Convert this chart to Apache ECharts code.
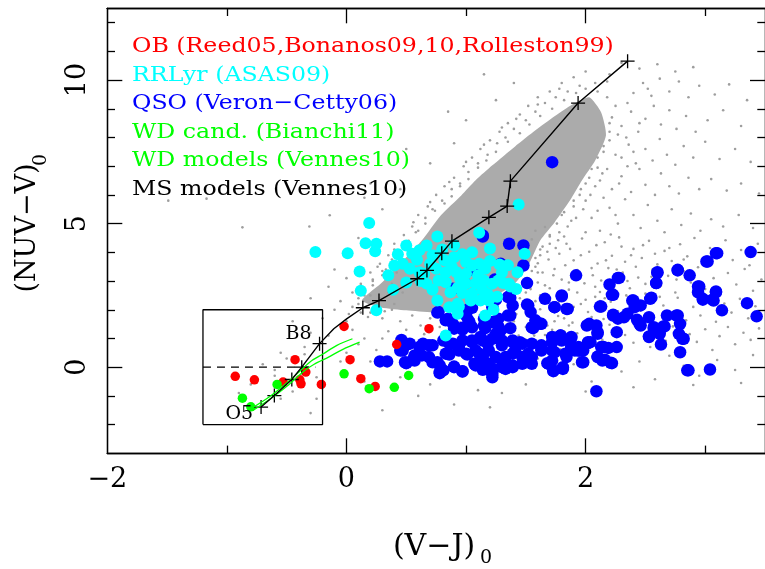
<!DOCTYPE html>
<html>
<head>
<meta charset="utf-8">
<script src="https://cdn.jsdelivr.net/npm/echarts@6/dist/echarts.min.js"></script>
<style>
  html, body { margin: 0; padding: 0; background: #fff; }
  #chart { width: 765px; height: 569px; }
</style>
</head>
<body>
<div id="chart"></div>
<script>
// ---- data (V-J)_0 , (NUV-V)_0 ----
// dense part of the field-star cloud, outline only
const fieldCore = [
  [0.13, 2.32], [0.29, 2.92], [0.46, 3.65], [0.63, 4.41], [0.79, 5.29], [0.96, 5.98],
  [1.08, 6.51], [1.22, 7.03], [1.41, 7.69], [1.58, 8.25], [1.74, 8.74], [1.89, 9.15],
  [2.03, 9.40], [2.13, 8.87], [2.17, 8.07], [2.08, 7.20], [1.97, 6.51], [1.87, 5.81],
  [1.74, 5.04], [1.62, 4.41], [1.52, 3.54], [1.41, 2.92], [1.25, 2.50], [1.00, 2.15],
  [0.75, 1.91], [0.50, 1.98], [0.29, 2.08]
]

// scattered field stars around the core
const fieldStars = [
  // lower right
  [1.55,4.45],[1.62,4.1],[1.7,4.55],[1.78,3.95],[1.84,4.3],[1.9,3.72],[1.97,4.48],[2.03,4.02],[2.1,3.61],[2.16,4.35],
  [2.22,3.88],[2.28,4.52],[2.33,3.67],[2.4,4.12],[2.47,3.8],[2.53,4.4],[2.6,3.58],[2.66,4.05],[2.72,3.7],[2.79,4.28],
  [2.85,3.86],[2.91,4.5],[2.98,3.62],[3.04,4.15],[3.1,3.91],[3.17,4.42],[3.23,3.73],[3.3,4.08],[3.37,3.55],[3.44,4.3],
  [1.6,3.3],[1.66,2.85],[1.74,3.42],[1.8,3.05],[1.86,2.7],[1.93,3.38],[1.99,2.92],[2.06,3.2],[2.12,2.62],[2.19,3.45],
  [2.25,2.98],[2.31,3.3],[2.37,2.75],[2.44,3.12],[2.5,2.56],[2.56,3.4],[2.63,2.84],[2.69,3.18],[2.75,2.6],[2.82,3.35],
  [2.88,2.95],[2.94,3.48],[3.0,2.72],[3.07,3.1],[3.13,2.58],[3.19,3.28],[3.26,2.88],[3.33,3.42],[3.4,2.66],[3.47,3.05],
  [1.45,2.4],[1.52,1.85],[1.58,2.3],[1.64,1.62],[1.7,2.05],[1.77,1.78],[1.83,2.38],[1.89,1.55],[1.96,2.2],[2.02,1.92],
  [2.08,2.45],[2.15,1.68],[2.21,2.28],[2.27,1.95],[2.34,2.5],[2.4,1.6],[2.46,1.98],[2.52,2.32],[2.59,1.52],[2.65,2.15],
  [2.71,1.88],[2.77,2.42],[2.84,1.63],[2.9,2.1],[2.96,1.8],[3.03,2.45],[3.09,1.58],[3.16,2.22],[3.22,1.9],[3.29,2.38],
  [3.36,1.7],[3.42,2.12],
  [1.5,1.4],[1.57,1.1],[1.64,0.9],[1.72,1.3],[1.79,0.62],[1.86,1.45],[1.93,1.18],[2.0,0.75],[2.07,1.35],[2.14,0.95],
  [2.2,1.48],[2.27,0.58],[2.33,1.12],[2.4,0.85],[2.47,1.38],[2.54,0.7],[2.6,1.22],[2.67,0.92],[2.73,1.42],[2.8,0.65],
  [2.87,1.15],[2.93,0.88],[3.0,1.32],[3.06,0.6],[3.12,1.08],[3.19,1.4],[3.25,0.8],[3.32,1.2],[3.38,0.95],[3.45,1.35],
  [1.6,0.3],[1.75,-0.3],[1.9,0.1],[2.05,-0.5],[2.18,0.35],[2.3,-0.15],[2.45,0.2],[2.58,-0.42],[2.7,0.4],[2.82,0.05],
  [2.95,-0.3],[3.1,0.25],[3.25,-0.1],[3.4,0.42],[2.0,-0.85],[2.4,-0.7],[2.9,-0.62],[3.3,-0.55],[1.5,-0.6],[1.3,-0.9],
  // denser strip just right of the core
  [1.58,4.75],[1.66,4.88],[1.6,3.62],[1.68,4.02],[1.73,3.2],[1.77,4.42],[1.83,3.55],[1.87,4.12],[1.92,3.1],[1.96,3.9],
  [2.0,4.7],[2.05,3.45],[2.09,4.25],[2.13,3.02],[2.17,3.72],[2.21,4.62],[2.26,3.4],[2.3,4.2],[2.35,3.0],[2.38,3.9],
  [1.54,2.72],[1.62,2.5],[1.7,2.75],[1.78,2.3],[1.86,2.95],[1.93,2.6],[2.0,2.35],[2.08,2.8],[2.16,2.4],[2.24,2.7],
  [1.48,2.1],[1.55,1.6],[1.62,2.02],[1.68,1.45],[1.75,1.95],[1.82,1.7],[1.9,2.1],[1.97,1.42],[2.05,1.75],[2.12,2.3],
  [1.44,1.1],[1.5,0.95],[1.58,1.25],[1.66,1.12],[1.74,1.6],[1.82,1.25],[1.3,1.62],[1.42,1.85],[1.36,2.05],[1.26,2.12],
  [2.42,3.5],[2.48,4.25],[2.55,3.15],[2.58,3.95],[2.64,3.3],[2.7,4.15],[2.76,3.05],[2.82,3.75],[2.5,2.9],[2.62,2.45],
  // upper right
  [2.05,5.2],[2.12,4.75],[2.2,5.55],[2.27,5.0],[2.33,5.85],[2.4,5.3],[2.46,4.85],[2.52,5.65],[2.6,5.1],[2.66,4.7],
  [2.72,5.5],[2.8,4.95],[2.88,5.35],[2.96,4.75],[3.05,5.15],[3.15,4.9],[3.28,5.3],[3.4,4.85],
  [2.22,6.2],[2.3,6.65],[2.38,6.1],[2.45,6.9],[2.5,6.35],[2.58,6.0],[2.63,6.75],[2.7,6.3],[2.78,6.05],[2.86,6.6],
  [2.95,6.2],[3.05,6.55],[3.18,6.15],[3.3,6.4],[3.45,6.05],
  [2.3,7.3],[2.36,7.75],[2.42,7.1],[2.5,7.6],[2.56,7.2],[2.62,7.95],[2.68,7.4],[2.75,7.05],[2.82,7.7],[2.9,7.3],
  [3.0,7.85],[3.12,7.25],[3.25,7.6],[3.38,7.15],
  [2.3,8.4],[2.38,8.9],[2.44,8.2],[2.5,8.65],[2.57,9.1],[2.63,8.45],[2.7,8.95],[2.76,8.3],[2.84,8.75],[2.92,8.2],
  [3.02,8.6],[3.15,8.95],[3.3,8.4],
  [2.4,9.55],[2.48,9.9],[2.55,9.45],[2.62,10.05],[2.7,9.6],[2.78,9.95],[2.86,9.4],[2.95,9.8],[3.08,9.5],[3.2,9.85],
  [3.35,9.3],[2.45,10.4],[2.6,10.55],[2.75,10.3],[2.9,10.45],[2.2,10.2],[2.3,10.6],
  [2.25,5.3],[2.15,5.9],[2.28,6.4],[2.35,7.0],[2.4,7.5],[2.34,8.0],[2.45,8.5],[2.35,9.2],[2.52,9.7],[2.1,5.45],
  // halo, upper-left edge of the core
  [0.05,2.6],[0.12,2.9],[0.2,3.3],[0.28,3.6],[0.35,3.9],[0.4,4.3],[0.48,4.6],[0.55,4.9],[0.6,5.3],[0.68,5.6],
  [0.75,6.0],[0.82,6.3],[0.9,6.6],[0.98,7.0],[1.05,7.3],[1.12,7.6],[1.2,7.9],[1.28,8.2],[1.35,8.5],[1.45,8.8],
  [1.52,9.1],[1.6,9.4],[1.7,9.6],[1.8,9.9],[1.9,10.1],[2.0,10.3],
  [0.15,2.5],[0.22,3.0],[0.33,3.4],[0.42,3.9],[0.5,4.2],[0.58,4.7],[0.66,5.0],[0.72,5.5],[0.8,5.8],[0.88,6.2],
  [0.95,6.4],[1.02,6.8],[1.1,7.1],[1.18,7.4],[1.26,7.8],[1.33,8.0],[1.4,8.3],[1.5,8.6],[1.58,8.9],[1.66,9.2],
  [1.75,9.4],[1.85,9.6],[1.95,9.8],
  [0.22,3.05],[0.3,3.35],[0.38,3.75],[0.45,4.05],[0.52,4.4],[0.6,4.75],[0.66,5.2],[0.74,5.45],[0.82,5.7],[0.88,5.95],
  [0.95,6.3],[1.02,6.55],[1.1,6.95],[1.17,7.2],[1.25,7.5],[1.35,7.85],[1.45,8.15],[1.53,8.45],[1.62,8.75],[1.72,9.0],
  [1.82,9.3],[1.92,9.55],[2.0,9.7],[2.08,9.9],[0.26,3.5],[0.4,4.1],[0.56,5.05],[0.7,5.75],[0.86,6.45],[1.0,7.15],
  [1.15,7.75],[1.3,8.35],[1.42,8.65],[1.6,9.15],[1.78,9.7],
  [0.3,5.5],[0.1,4.5],[0.45,6.2],[0.7,7.1],[0.9,7.8],[1.0,8.6],[1.25,9.3],[1.4,9.9],[-0.1,3.4],[0.5,7.6],
  [0.2,6.4],[0.15,5.9],[0.85,8.9],[1.15,10.2],
  [-1.49,5.8],[-1.17,5.87],[-0.87,4.87],[-0.31,4.9],[-0.14,5.29],
  // halo, right edge of the core
  [1.8,5.3],[1.85,4.9],[1.9,5.6],[1.95,6.0],[2.0,6.4],[2.05,6.9],[2.1,7.3],[2.15,7.7],[2.2,8.2],[2.22,8.7],
  [2.25,9.1],[2.18,9.4],[1.78,4.7],[1.7,4.3],[1.62,3.9],[1.58,3.5],[1.52,3.0],[1.45,2.65],[1.35,2.45],[1.92,5.2],
  [2.0,5.8],[2.08,6.3],[2.14,6.75],
  [2.2,8.5],[2.2,7.9],[2.15,7.5],[2.1,6.95],[2.03,6.6],[1.96,6.2],[1.9,5.8],[1.82,5.4],[1.76,5.0],[1.7,4.6],
  [1.64,4.2],[1.58,3.8],[1.55,3.35],[1.48,2.95],[1.38,2.6],[1.28,2.3],[2.27,8.1],[2.25,7.4],[2.18,6.9],[2.12,6.5],
  [2.04,6.0],[1.98,5.5],[1.88,5.1],[1.82,4.55],[1.75,4.15],[1.69,3.75],[1.64,3.3],[1.6,2.95],[1.5,2.6],[2.1,9.6],
  [2.18,9.95],
  // below the core and towards the box
  [0.2,1.9],[0.3,1.7],[0.38,2.0],[0.45,1.6],[0.55,1.8],[0.62,1.45],[0.7,1.7],[0.78,1.4],[0.88,1.8],[0.95,1.55],
  [1.05,1.9],[1.12,1.5],[1.2,1.95],[1.28,1.7],[1.35,2.2],[0.5,1.3],[0.35,1.25],[0.65,1.15],[1.4,1.6],[0.0,1.6],
  [0.1,2.2],[-0.05,2.3],[0.05,1.3],[0.15,1.0],
  [0.1,2.4],[0.15,2.7],[0.2,2.5],[0.25,2.2],[0.05,2.1],[0.22,2.85],[0.3,3.2],[0.35,2.6],[0.28,2.4],[0.12,1.9],
  [0.18,1.75],[0.4,2.2],[0.42,3.3],[0.38,2.9],[0.08,2.65],[0.02,1.85],[-0.03,1.5],[0.32,1.95],[0.47,2.6],[0.5,3.0],
  [-0.3,1.2],[-0.2,1.7],[-0.1,2.0],[-0.35,0.7],[-0.15,1.1],[0.0,0.5],[0.1,0.8],[0.25,0.6],[0.35,0.3],[0.2,0.2],
  [-0.05,0.2],[-0.3,2.4],[-0.15,2.8],[0.0,3.1],[-0.45,1.6],[-0.55,0.5],[-0.6,-0.1],[0.3,1.0],[0.45,0.45],[0.15,-0.5],
  [-0.25,-1.1],[0.3,-1.5],[0.6,-1.0],[0.9,-1.3],[1.2,-1.4],[1.1,-0.8],[0.7,-0.6],[0.45,-0.35],
  [-0.8,-0.6],[-0.7,0.1],[-0.55,-1.1],[-0.45,-0.85],[-0.3,-1.6],[-0.6,-0.3],[-0.35,0.45],[-0.25,-0.35],[-0.5,0.3],[-0.9,-0.9]
]

// QSO (Veron-Cetty06)
const qso = [
  [1.14,4.55],[1.36,4.30],[1.48,4.24],[1.48,3.54],[1.51,2.93],[1.92,3.20],[2.20,2.88],[2.27,3.11],[2.23,2.52],[1.80,2.47],
  [1.66,2.38],[1.74,2.09],[1.85,2.03],[2.13,2.11],[1.37,2.42],[1.39,2.15],[1.25,2.35],[1.51,2.18],[1.54,1.92],[1.05,2.07],
  [1.00,1.80],[0.76,1.90],[0.85,1.69],[0.89,1.51],[0.97,1.31],[1.03,1.55],[1.16,1.36],[1.22,1.57],[1.27,1.42],[1.37,1.36],
  [1.35,1.80],[1.29,1.28],[1.56,1.36],[1.63,1.51],[1.88,1.05],[2.03,1.51],[2.10,1.22],[2.04,0.87],[2.26,1.22],[2.23,1.83],
  [2.32,1.74],[2.40,2.32],[2.41,2.09],[2.46,2.15],[2.45,1.51],[2.53,1.74],[2.55,2.42],[2.59,2.93],[2.60,3.31],[2.77,3.39],
  [2.87,3.20],[2.95,2.81],[2.94,2.61],[2.98,2.38],[3.09,2.61],[3.06,2.35],[3.14,1.98],[3.01,3.68],[3.09,3.97],[3.38,4.01],
  [3.35,2.23],[3.43,1.77],[2.53,1.07],[2.57,1.39],[2.63,0.79],[2.66,1.42],[2.68,1.80],[2.77,1.80],[2.79,1.51],[2.82,0.99],
  [2.79,0.52],[2.85,-0.11],[3.04,-0.08],[2.09,-0.84],
  [1.94,0.70],[1.98,0.58],[1.98,0.17],[2.15,0.70],[2.26,0.70],[2.10,0.37],[2.21,0.15],[2.14,0.23],[1.81,-0.06],[1.73,-0.14],
  [1.68,0.14],[1.88,0.70],[1.79,1.10],[1.72,0.87],[1.63,0.76],[1.55,0.82],[1.47,0.82],[1.39,0.87],[1.30,0.93],[1.22,0.99],
  [1.14,0.93],[1.05,0.87],[0.97,0.93],[0.89,0.82],[0.81,0.93],[0.69,0.76],[0.61,0.70],[0.53,0.82],[0.46,0.95],[0.47,0.58],
  [0.50,0.14],[0.57,0.23],[0.63,0.41],[0.69,0.35],[0.72,0.17],[0.78,0.06],[0.78,-0.21],[0.81,-0.11],[0.90,0.02],[0.97,-0.14],
  [0.86,0.44],[0.94,0.58],[1.01,0.44],[1.11,0.47],[1.11,0.17],[1.14,-0.09],[1.22,-0.35],[1.23,-0.06],[1.30,0.00],[1.39,0.06],
  [1.33,0.35],[1.19,0.58],[1.25,0.35],[1.41,0.58],[1.52,0.47],[1.63,0.64],[1.72,0.58],[1.69,0.12],[1.55,0.35],[1.47,0.35],
  [1.08,0.06],[1.05,1.39],[1.15,1.69],[1.00,1.98],[1.58,1.63],
  [1.14,4.59],[1.29,3.60],[1.24,3.05],[1.05,3.39],[0.99,2.93],[0.89,2.73],[1.35,2.44],[1.37,1.80],[1.22,2.09],[1.27,1.69],
  [0.77,1.92],[1.00,1.86],[1.04,2.09],[0.97,1.37],[1.15,1.45],[1.72,7.14],
  [0.50,0.78],[0.49,0.17],[0.45,0.58],[0.28,0.20],[0.34,0.20],[0.50,0.15],[0.57,0.41],
  [1.08,0.58],[1.14,0.35],[1.19,0.12],[1.30,0.23],[1.39,0.47],[1.63,0.58],[1.72,0.23],[1.83,0.47],[1.91,0.58],[1.97,0.17],
  [2.02,0.87],[2.01,1.45],[1.84,2.03],[1.52,2.15],[1.62,1.51],[1.55,1.39],[1.22,-0.23],[0.97,-0.15],[0.78,-0.17],[1.73,-0.11],
  [0.56,0.29],[0.64,0.82],[0.72,0.76],[0.76,0.17],[0.83,0.47],[0.86,0.82],[0.94,0.70],[0.90,0.00],[1.00,0.47],[1.05,0.93],
  [1.12,1.05],[1.39,0.93],[1.45,0.87],[1.72,1.05],[1.80,0.93],[1.88,0.70],[1.95,0.58],[1.39,0.00],[1.47,0.12],[1.55,0.12],
  [1.33,-0.06],[1.15,-0.06],[1.07,0.12],[1.25,1.16],[1.30,0.76],[1.18,0.82],[1.02,1.63],[0.90,1.34],[0.83,1.63],
  [2.28,3.11],[2.22,2.52],[1.80,2.50],[1.74,2.09],[2.12,2.11],[2.39,2.32],[2.54,2.38],[2.60,3.29],[2.59,2.93],[2.77,3.37],
  [3.02,3.68],[3.10,3.97],[2.94,2.81],[2.98,2.35],[3.09,2.64],[3.07,2.32],[2.23,1.80],[2.27,1.69],[2.35,1.86],[2.43,1.65],
  [2.46,1.45],[2.76,1.80],[2.78,1.16],[2.81,0.99],[2.57,1.34],[2.53,1.05],[2.62,1.16],[2.65,1.42],[2.09,1.45],[2.10,1.16],
  [2.02,0.84],[2.13,0.70],[2.19,0.67],[2.10,0.35],[2.16,0.26],[2.22,0.14],[1.94,0.58],[1.88,1.02],[1.79,1.10],[1.74,0.52],
  [1.84,0.35],[1.81,0.00],[2.86,-0.11]
]

// RRLyr (ASAS09)
const rrLyr = [
  [0.19,5.02],[0.16,4.32],[0.25,4.30],[0.24,4.04],[0.01,3.97],[-0.26,4.01],[0.11,3.33],[0.12,2.66],[0.25,1.98],[0.39,2.70],
  [0.50,4.24],[0.43,3.93],[0.61,4.07],[0.67,4.24],[0.59,3.74],[0.47,3.60],[0.40,3.54],[0.53,3.43],[0.61,3.31],[0.76,4.55],
  [0.75,3.43],[0.77,3.02],[0.67,2.91],[0.82,3.72],[0.90,3.83],[0.97,3.93],[1.00,3.66],[1.05,3.54],[1.11,3.60],[1.16,3.43],
  [1.15,3.02],[1.08,2.91],[1.00,2.91],[0.93,2.77],[0.87,2.61],[0.97,2.58],[1.05,2.56],[1.14,2.67],[1.22,2.91],[1.27,3.02],
  [1.36,2.91],[1.43,3.31],[1.11,4.68],[1.20,4.13],[0.76,2.32],[0.86,2.09],[0.93,2.21],[1.04,2.32],[1.19,2.32],[1.44,5.67],
  [0.83,3.31],[0.92,3.31],[1.00,3.25],[0.83,2.96],[1.28,3.58],[1.37,2.81],[1.31,2.93],[1.23,2.00],[1.16,1.80],[1.12,2.32],
  [0.94,2.11],[0.93,1.86],[0.83,1.10],[1.49,3.95],
  [0.70,3.6],[0.72,3.9],[0.88,3.5],[0.95,3.1],[1.1,3.2],[1.2,3.7],[0.55,3.95],[0.65,3.25],[0.8,4.1],[1.05,4.0],
  [0.9,4.25],[1.3,3.3],[0.72,2.7],[1.18,2.55],[0.62,3.0],[1.35,3.55],[0.5,2.95],[0.35,3.2],[1.26,2.45],[1.42,2.72]
]

// OB (Reed05, Bonanos09,10, Rolleston99)
const obStars = [
  [-0.93,-0.32],[-0.77,-0.44],[-0.53,-0.52],[-0.43,0.26],[-0.34,-0.17],[-0.39,-0.44],[-0.38,-0.58],
  [-0.21,-0.60],[-0.02,1.42],[0.03,0.26],[0.12,-0.40],[0.24,-0.67],[0.42,0.79],[0.69,1.34]
]

// WD cand. (Bianchi11)
const wdCand = [
  [-0.87,-1.08],[-0.80,-1.38],[-0.58,-0.60],[-0.02,-0.23],[0.19,-0.75],[0.40,-0.70],[0.52,-0.29]
]

// WD models (Vennes10)
const wdModelA = [[-0.80,-1.45],[-0.65,-1.05],[-0.50,-0.55],[-0.38,-0.10],[-0.30,0.20],[-0.20,0.45],[-0.08,0.76],[0.05,0.99]]
const wdModelB = [[-0.78,-1.50],[-0.63,-1.08],[-0.48,-0.60],[-0.36,-0.15],[-0.27,0.10],[-0.15,0.35],[-0.03,0.62],[0.11,0.87]]

// MS models (Vennes10): track and the marked grid points
const msTrack = [
  [-0.714,-1.39],[-0.603,-0.99],[-0.457,-0.43],[-0.374,0.0],[-0.225,0.82],[-0.106,1.34],[0.004,1.69],
  [0.137,2.07],[0.272,2.32],[0.592,3.08],[0.673,3.37],[0.797,3.97],[0.882,4.39],[1.191,5.22],
  [1.344,5.61],[1.371,6.48],[1.937,9.20],[2.351,10.66]
]
const msMarks = [
  [-0.714,-1.39],[-0.603,-0.99],[-0.457,-0.43],[-0.374,0.0],[-0.225,0.82],
  [0.137,2.07],[0.272,2.32],[0.592,3.08],[0.673,3.37],[0.797,3.97],[0.882,4.39],[1.191,5.22],
  [1.344,5.61],[1.371,6.48],[1.937,9.20],[2.351,10.66]
]
const msLabels = [
  { name: 'O5', value: [-0.714, -1.39] },
  { name: 'B8', value: [-0.225, 0.82] }
]

// zoom box and the dashed zero line in it
const zoomBox = [[-1.2,-2],[-0.2,-2],[-0.2,2],[-1.2,2],[-1.2,-2]]
const zeroLine = [[-1.2,0],[-0.26,0]]

const legendTexts = [
  'OB (Reed05,Bonanos09,10,Rolleston99)',
  'RRLyr (ASAS09)',
  'QSO (Veron−Cetty06)',
  'WD cand. (Bianchi11)',
  'WD models (Vennes10)',
  'MS models (Vennes10)'
]
const legendColors = ['#ff0000', '#00ffff', '#0000ff', '#00ff00', '#00ff00', '#000000']

const xMajor = [0, 2]
const xMinor = [-1, 1, 3]
const xLabels = [-2, 0, 2]
const yMajor = [0, 5, 10]
const yMinor = [-2, -1, 1, 2, 3, 4, 6, 7, 8, 9, 11, 12]
const yLabels = [0, 5, 10]

// ---- chart ----
const FONT = 'DejaVu Serif'
const chart = echarts.init(document.getElementById('chart'), null, { renderer: 'canvas' })

const fmt = v => (v < 0 ? '−' + Math.abs(v) : String(v))
const plusSymbol = 'path://M-0.65,-7 H0.65 V-0.65 H7 V0.65 H0.65 V7 H-0.65 V0.65 H-7 V-0.65 H-0.65 Z'

function xAxisOf(position, ticks, len, labels) {
  return {
    type: 'value', min: -2, max: 3.5, position: position,
    axisLine: { show: true, onZero: false, lineStyle: { color: '#000', width: 1.3 } },
    axisTick: { show: true, inside: true, length: len, customValues: ticks, lineStyle: { color: '#000', width: 1.3 } },
    axisLabel: labels ? {
      show: true, customValues: labels, formatter: fmt, margin: 13,
      fontFamily: FONT, fontSize: 27, color: '#000'
    } : { show: false },
    splitLine: { show: false }
  }
}
function yAxisOf(position, ticks, len, labels) {
  return {
    type: 'value', min: -3, max: 12.5, position: position,
    axisLine: { show: true, onZero: false, lineStyle: { color: '#000', width: 1.3 } },
    axisTick: { show: true, inside: true, length: len, customValues: ticks, lineStyle: { color: '#000', width: 1.3 } },
    axisLabel: labels ? {
      show: true, customValues: labels, formatter: fmt, margin: 16, rotate: 90,
      fontFamily: FONT, fontSize: 27, color: '#000'
    } : { show: false },
    splitLine: { show: false }
  }
}

// legend lines are a bit wider in the original, stretch them horizontally
const legendGraphics = legendTexts.map((t, i) => ({
  type: 'text', x: 132, y: 36 + i * 28.6, scaleX: 1.127, z: 100,
  style: { text: t, fill: legendColors[i], font: '21px "' + FONT + '"' }
}))

const option = {
  animation: false,
  backgroundColor: '#fff',
  grid: { left: 107.3, top: 8.3, width: 663.9, height: 445, containLabel: false },
  xAxis: [
    xAxisOf('bottom', xMajor, 15, xLabels),
    xAxisOf('bottom', xMinor, 7.7, null),
    xAxisOf('top', xMajor, 15, null),
    xAxisOf('top', xMinor, 7.7, null)
  ],
  yAxis: [
    yAxisOf('left', yMajor, 15, yLabels),
    yAxisOf('left', yMinor, 7.7, null),
    yAxisOf('right', yMajor, 15, null),
    yAxisOf('right', yMinor, 7.7, null)
  ],
  graphic: [
    ...legendGraphics,
    {
      type: 'text', x: 434, y: 547, z: 100,
      style: { text: '(V−J)', fill: '#000', font: '30px "' + FONT + '"', align: 'center', verticalAlign: 'middle' }
    },
    {
      type: 'text', x: 486, y: 558, z: 100,
      style: { text: '0', fill: '#000', font: '19px "' + FONT + '"', align: 'center', verticalAlign: 'middle' }
    },
    {
      type: 'text', x: 28, y: 228, rotation: Math.PI / 2, z: 100,
      style: { text: '(NUV−V)', fill: '#000', font: '27px "' + FONT + '"', align: 'center', verticalAlign: 'middle' }
    },
    {
      type: 'text', x: 41, y: 160, rotation: Math.PI / 2, z: 100,
      style: { text: '0', fill: '#000', font: '19px "' + FONT + '"', align: 'center', verticalAlign: 'middle' }
    }
  ],
  series: [
    {
      // dense core of the field stars
      type: 'custom', silent: true, clip: true,
      data: [[0, 0]],
      renderItem: (params, api) => ({
        type: 'polygon',
        shape: { points: fieldCore.map(p => api.coord(p)), smooth: 0.2 },
        style: { fill: '#ababab' }
      })
    },
    {
      type: 'scatter', data: fieldStars, symbolSize: 2.6, silent: true,
      itemStyle: { color: '#9e9e9e', opacity: 1 }
    },
    {
      type: 'scatter', data: qso, symbolSize: 12.5, silent: true,
      itemStyle: { color: '#0000ff', opacity: 1 }
    },
    {
      type: 'scatter', data: rrLyr, symbolSize: 12, silent: true,
      itemStyle: { color: '#00ffff', opacity: 1 }
    },
    {
      type: 'scatter', data: obStars, symbolSize: 9.5, silent: true,
      itemStyle: { color: '#ff0000', opacity: 1 }
    },
    {
      type: 'scatter', data: wdCand, symbolSize: 9.5, silent: true,
      itemStyle: { color: '#00ff00', opacity: 1 }
    },
    {
      type: 'line', data: zoomBox, symbol: 'none', silent: true,
      lineStyle: { color: '#000', width: 1.3 }
    },
    {
      type: 'line', data: zeroLine, symbol: 'none', silent: true,
      lineStyle: { color: '#000', width: 1.2, type: [8, 6] }
    },
    {
      type: 'line', data: wdModelA, symbol: 'none', smooth: 0.3, silent: true,
      lineStyle: { color: '#00ff00', width: 1.3 }
    },
    {
      type: 'line', data: wdModelB, symbol: 'none', smooth: 0.3, silent: true,
      lineStyle: { color: '#00ff00', width: 1.3 }
    },
    {
      type: 'line', data: msTrack, symbol: 'none', silent: true,
      lineStyle: { color: '#000', width: 1.4 }
    },
    {
      type: 'scatter', data: msMarks, symbol: plusSymbol, symbolSize: 14, silent: true,
      itemStyle: { color: '#000', opacity: 1 }
    },
    {
      type: 'scatter', data: msLabels, symbolSize: 0, silent: true,
      itemStyle: { opacity: 1 },
      label: {
        show: true, formatter: '{b}', position: 'left', distance: 8,
        fontFamily: FONT, fontSize: 19, color: '#000', opacity: 1
      },
      labelLayout: params => params.dataIndex === 0 ? { dy: 7 } : { dy: -10 }
    }
  ]
}

chart.setOption(option)
</script>
</body>
</html>
